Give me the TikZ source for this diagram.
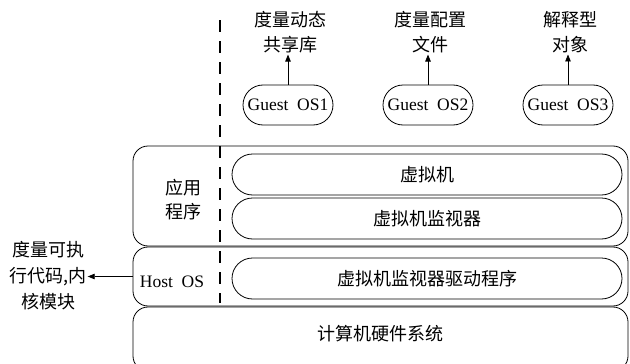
\documentclass[tikz,border=0pt]{standalone}
\usepackage{fontspec}
\setmainfont{Liberation Serif}
\newfontfamily\cjk{Noto Sans CJK SC}
\usetikzlibrary{arrows.meta,shapes.misc}
\begin{document}
\begin{tikzpicture}[x=1pt,y=-1pt,
  font=\fontsize{17.5}{20}\selectfont,
  layer/.style={draw, line width=0.8pt, rounded corners=15pt, inner sep=0pt},
  pill/.style={draw, rounded rectangle, line width=0.8pt, inner sep=0pt},
  lbl/.style={align=center, inner sep=1pt, font=\cjk\fontsize{18}{25}\selectfont},
  arr/.style={-{Triangle[length=7pt,width=5.5pt]}, line width=0.8pt}]
\useasboundingbox (0,0) rectangle (630,364);
\clip (0,0) rectangle (630,364);
% layers
\node[layer, minimum width=495pt, minimum height=100pt] (app) at (380.5,196) {};
\node[layer, minimum width=495pt, minimum height=59pt] (host) at (380.5,276.5) {};
\node[layer, minimum width=495pt, minimum height=64pt] (hw) at (380.5,339) {};
% pills
\node[pill, minimum width=390pt, minimum height=41pt, font=\cjk\fontsize{18}{20}\selectfont] (vm) at (427,174.5) {虚拟机};
\node[pill, minimum width=390pt, minimum height=41pt, font=\cjk\fontsize{18}{20}\selectfont] (vmm) at (427,218.5) {虚拟机监视器};
\node[pill, minimum width=390pt, minimum height=41pt, font=\cjk\fontsize{18}{20}\selectfont] (drv) at (427,278.5) {虚拟机监视器驱动程序};
% layer labels
\node[lbl, font=\cjk\fontsize{18}{24}\selectfont] (applbl) at (183,200) {应用\\程序};
\node (hostlbl) at (172,282) {Host\ \ OS};
\node[lbl] (hwlbl) at (380,334) {计算机硬件系统};
% dashed separator
\draw[line width=1.8pt, dash pattern=on 12pt off 9pt] (220,20) -- (220,303);
% guest OS
\node[pill, minimum width=90pt, minimum height=40pt] (g1) at (288,105) {Guest\ \ OS1};
\node[pill, minimum width=90pt, minimum height=40pt] (g2) at (428,105) {Guest\ \ OS2};
\node[pill, minimum width=90pt, minimum height=40pt] (g3) at (568,105) {Guest\ \ OS3};
\node[lbl] (l1) at (290,32.5) {度量动态\\共享库};
\node[lbl] (l2) at (430,32.5) {度量配置\\文件};
\node[lbl] (l3) at (570,32.5) {解释型\\对象};
\draw[arr] (g1.north) -- (g1.north |- l1.south);
\draw[arr] (g2.north) -- (g2.north |- l2.south);
\draw[arr] (g3.north) -- (g3.north |- l3.south);
% left label
\node[lbl, font=\cjk\fontsize{18}{26}\selectfont] (exe) at (48,276) {度量可执\\行代码,内\\核模块};
\draw[arr] (host.west) -- (exe.east |- host.west);
\end{tikzpicture}
\end{document}
